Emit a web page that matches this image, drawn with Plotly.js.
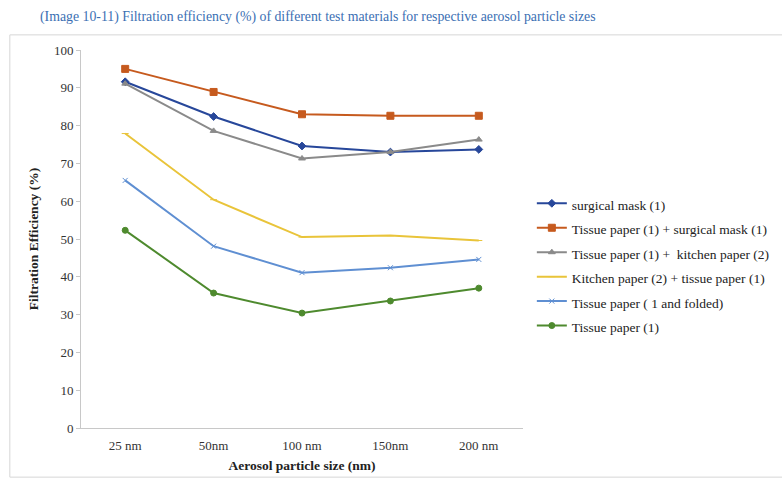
<!DOCTYPE html>
<html><head><meta charset="utf-8">
<script src="https://cdn.plot.ly/plotly-3.0.1.min.js"></script>
<style>body{margin:0;background:#fff}#c{width:782px;height:482px}</style>
</head><body><div id="c"></div>
<script>
var categories = ['25 nm', '50nm', '100 nm', '150nm', '200 nm'];
var surgicalMask = [91.6, 82.4, 74.6, 73.0, 73.7];
var tissueSurgical = [95.0, 88.9, 83.0, 82.6, 82.6];
var tissueKitchen = [91.1, 78.6, 71.3, 73.0, 76.3];
var kitchenTissue = [77.9, 60.4, 50.5, 50.9, 49.6];
var tissueFolded = [65.5, 48.1, 41.1, 42.4, 44.6];
var tissuePaper = [52.3, 35.7, 30.4, 33.6, 37.0];
var names = ['surgical mask (1)', 'Tissue paper (1) + surgical mask (1)', 'Tissue paper (1) +  kitchen paper (2)', 'Kitchen paper (2) + tissue paper (1)', 'Tissue paper ( 1 and folded)', 'Tissue paper (1)'];

var styles = [
  {c:'#27479a', s:'diamond', z:6},
  {c:'#c65a1e', s:'square', z:7},
  {c:'#8a8a8a', s:'triangle-up', z:6},
  {c:'#e9c43a', s:'line-ew', z:5},
  {c:'#5f8fd2', s:'x-thin', z:5},
  {c:'#4e8a2e', s:'circle', z:6}
];
var series = [surgicalMask, tissueSurgical, tissueKitchen, kitchenTissue, tissueFolded, tissuePaper];
var data = series.map(function(v, i){
  return {x: categories, y: v, name: '<span style="font-size:13.5px">' + names[i] + '</span>', type:'scatter', mode:'lines+markers',
    line:{color:styles[i].c, width:2},
    marker:{color:styles[i].c, symbol:styles[i].s, size:styles[i].z, line:{color:styles[i].c, width:1}}};
});
var F = 'Liberation Serif, Times New Roman, serif';
var layout = {
  width:782, height:482, showlegend:true,
  margin:{l:81, r:259, t:50, b:54, autoexpand:false},
  paper_bgcolor:'#fff', plot_bgcolor:'#fff',
  font:{family:F, size:13, color:'#333'},
  xaxis:{type:'category', range:[-0.5, 4.5], showgrid:false, zeroline:false, showline:true, linecolor:'#c8c8c8', linewidth:1,
    ticks:'', ticklabelstandoff:5, tickfont:{family:F, size:13, color:'#333'},
    title:{text:'<b>Aerosol particle size (nm)</b>', font:{family:F, size:13.5, color:'#222'}, standoff:8}},
  yaxis:{range:[0,100], dtick:10, showgrid:false, zeroline:false, showline:true, linecolor:'#c8c8c8', linewidth:1,
    ticks:'outside', ticklen:4, tickcolor:'#c8c8c8', tickfont:{family:F, size:13, color:'#333'},
    title:{text:'<b>Filtration Efficiency (%)</b>', font:{family:F, size:13.5, color:'#222'}, standoff:12}},
  legend:{x:1.02, y:0.64, xanchor:'left', yanchor:'top', font:{family:F, size:16.5, color:'#222'}, tracegroupgap:0, itemwidth:30, bgcolor:'rgba(0,0,0,0)'},
  annotations:[{xref:'paper', yref:'paper', x:-0.097, y:1.087, xanchor:'left', yanchor:'middle', showarrow:false,
    text:'(Image 10-11) Filtration efficiency (%) of different test materials for respective aerosol particle sizes',
    font:{family:F, size:13.8, color:'#3b6fb3'}}],
  shapes:[{type:'rect', xref:'paper', yref:'paper', x0:-0.161, x1:1.62, y0:-0.13, y1:1.04, line:{color:'#d6d6d6', width:1}, fillcolor:'rgba(0,0,0,0)', layer:'below'}]
};
Plotly.newPlot('c', data, layout, {displayModeBar:false, staticPlot:true});
</script></body></html>
